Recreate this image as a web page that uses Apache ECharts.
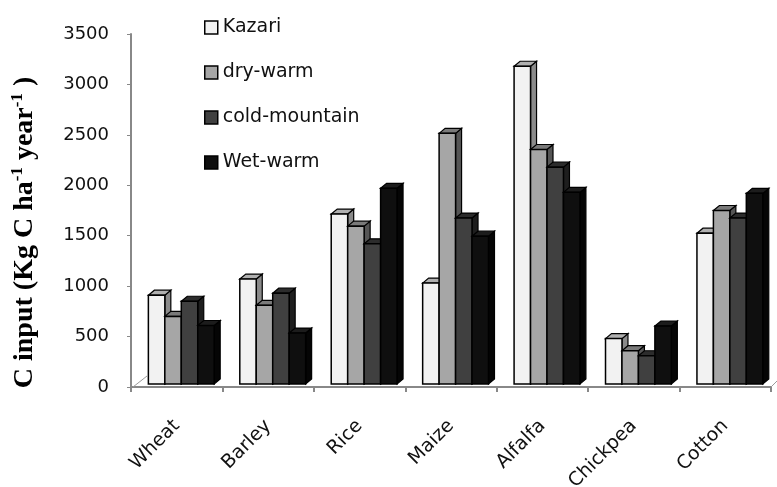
<!DOCTYPE html>
<html>
<head>
<meta charset="utf-8">
<script src="https://cdn.jsdelivr.net/npm/echarts@6/dist/echarts.min.js"></script>
<style>html,body{margin:0;padding:0;background:#fff}#c{width:777px;height:487px}</style>
</head>
<body>
<div id="c"></div>
<script>
const categories = ['Wheat', 'Barley', 'Rice', 'Maize', 'Alfalfa', 'Chickpea', 'Cotton'];
const seriesNames = ['Kazari', 'dry-warm', 'cold-mountain', 'Wet-warm'];
const kazari = [910, 1070, 1715, 1030, 3180, 480, 1525];
const dryWarm = [700, 810, 1595, 2515, 2355, 360, 1750];
const coldMountain = [850, 930, 1420, 1675, 2180, 310, 1675];
const wetWarm = [610, 535, 1970, 1495, 1930, 605, 1920];
const yTicks = { min: 0, max: 3500, interval: 500 };

const allValues = [kazari, dryWarm, coldMountain, wetWarm];
const faces = [
  { front: '#f2f2f2', top: '#b0b0b0', side: '#8a8a8a' },
  { front: '#a6a6a6', top: '#7a7a7a', side: '#555555' },
  { front: '#404040', top: '#2c2c2c', side: '#1e1e1e' },
  { front: '#0f0f0f', top: '#1c1c1c', side: '#050505' }
];
const DX = 6, DY = 5, FLOOR = 3;

function makeRender(si) {
  return function (params, api) {
    const cat = api.value(0), val = api.value(1);
    const band = api.size([1, 0])[0];
    const w = band * 0.18;
    const c = api.coord([cat, val]);
    const b = api.coord([cat, 0]);
    const x0 = c[0] - 2 * w + band * 0.05 + si * w;
    const yT = c[1], yB = b[1] - FLOOR;
    const f = faces[si];
    const children = [
      { type: 'polygon', shape: { points: [[x0 + w, yT], [x0 + w + DX, yT - DY], [x0 + w + DX, yB - DY], [x0 + w, yB]] },
        style: { fill: f.side, stroke: '#000', lineWidth: 1.2 } },
      { type: 'polygon', shape: { points: [[x0, yT], [x0 + DX, yT - DY], [x0 + w + DX, yT - DY], [x0 + w, yT]] },
        style: { fill: f.top, stroke: '#000', lineWidth: 1.2 } },
      { type: 'rect', shape: { x: x0, y: yT, width: w, height: yB - yT },
        style: { fill: f.front, stroke: '#000', lineWidth: 1.5 } }
    ];
    if (si === 0 && params.dataIndex === 0) {
      const lx = b[0] - band / 2;
      children.unshift({ type: 'line', shape: { x1: lx + 2, y1: b[1], x2: lx + 16, y2: b[1] - 11 },
        style: { stroke: '#999', lineWidth: 1 } });
    }
    if (si === 3 && params.dataIndex === categories.length - 1) {
      const rx = b[0] + band / 2;
      children.unshift({ type: 'line', shape: { x1: rx, y1: b[1], x2: rx + 6, y2: b[1] - 6 },
        style: { stroke: '#999', lineWidth: 1 } });
    }
    return { type: 'group', children: children };
  };
}

const chart = echarts.init(document.getElementById('c'));
chart.setOption({
  animation: false,
  backgroundColor: '#fff',
  grid: { left: 131, right: 6, top: 34, bottom: 100, containLabel: false, outerBoundsMode: 'none' },
  legend: {
    orient: 'vertical', left: 199, top: 13,
    itemWidth: 13, itemHeight: 13, itemGap: 26,
    icon: 'rect',
    textStyle: { fontFamily: 'DejaVu Sans', fontSize: 19, color: '#111', lineHeight: 19, padding: [0, 0, 0, 0] },
    data: seriesNames.map((n, i) => ({ name: n, itemStyle: { color: faces[i].front, borderColor: '#000', borderWidth: 1.5 } }))
  },
  xAxis: {
    type: 'category', data: categories, boundaryGap: true,
    axisLine: { lineStyle: { color: '#888', width: 2 } },
    axisTick: { show: true, length: 5, lineStyle: { color: '#888', width: 2 } },
    axisLabel: { rotate: 45, margin: 36, fontFamily: 'DejaVu Sans', fontSize: 19, color: '#111' }
  },
  yAxis: {
    type: 'value', min: yTicks.min, max: yTicks.max, interval: yTicks.interval,
    splitLine: { show: false },
    axisLine: { show: true, lineStyle: { color: '#888', width: 2 } },
    axisTick: { show: true, length: 4, lineStyle: { color: '#888', width: 1 } },
    axisLabel: { margin: 22, fontFamily: 'DejaVu Sans', fontSize: 18, color: '#111', formatter: v => String(v) },
    name: '{b|C input (Kg C ha}{s|-1}{b| year}{s|-1}{b| )}',
    nameLocation: 'middle', nameGap: 92, nameRotate: 90,
    nameTextStyle: {
      padding: [0, 44, 0, 0],
      rich: {
        b: { fontFamily: 'Liberation Serif', fontWeight: 'bold', fontSize: 28, color: '#000', lineHeight: 30, verticalAlign: 'bottom' },
        s: { fontFamily: 'Liberation Serif', fontWeight: 'bold', fontSize: 17, color: '#000', lineHeight: 30, verticalAlign: 'top' }
      }
    }
  },
  series: allValues.map((vals, si) => ({
    type: 'custom',
    name: seriesNames[si],
    itemStyle: { color: faces[si].front, borderColor: '#000' },
    renderItem: makeRender(si),
    encode: { x: 0, y: 1 },
    data: vals.map((v, i) => [i, v])
  }))
});
</script>
</body>
</html>
